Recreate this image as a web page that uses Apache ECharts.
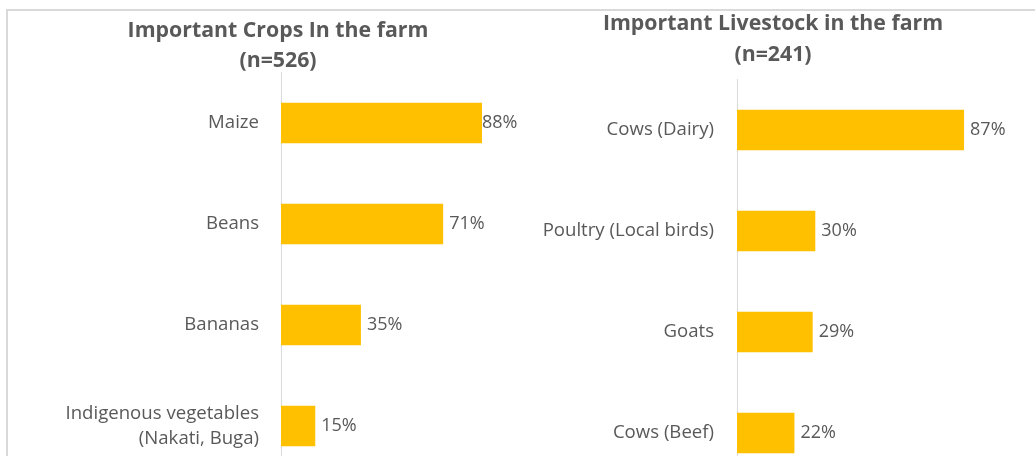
<!DOCTYPE html>
<html><head><meta charset="utf-8">
<script src="https://cdn.jsdelivr.net/npm/echarts@6/dist/echarts.min.js"></script>
<style>html,body{margin:0;padding:0;background:#fff;}#c{width:1035px;height:456px;}</style>
</head><body><div id="c"></div>
<script>
const cropCategories = ['Maize', 'Beans', 'Bananas', 'Indigenous vegetables\n(Nakati, Buga)'];
const cropValues = [88, 71, 35, 15];
const livestockCategories = ['Cows (Dairy)', 'Poultry (Local birds)', 'Goats', 'Cows (Beef)'];
const livestockValues = [87, 30, 29, 22];
const titles = ['Important Crops In the farm\n(n=526)', 'Important Livestock in the farm\n(n=241)'];

const FONT = 'Open Sans';
const TXT = '#595959';
const chart = echarts.init(document.getElementById('c'));
const labelStyle = {show: true, position: 'right', distance: 6, formatter: '{c}%', color: TXT, fontFamily: FONT, fontSize: 18};
chart.setOption({
  animation: false,
  title: [
    {text: titles[0], left: 273, top: 11, textAlign: 'center',
     textStyle: {color: TXT, fontFamily: FONT, fontWeight: 'bold', fontSize: 21.3, lineHeight: 30}},
    {text: titles[1], left: 768, top: 3, textAlign: 'center',
     textStyle: {color: TXT, fontFamily: FONT, fontWeight: 'bold', fontSize: 21.3, lineHeight: 31}}
  ],
  graphic: [
    {type: 'polyline', shape: {points: [[7, 460], [7, 10], [1040, 10]]}, style: {stroke: '#d9d9d9', lineWidth: 2, fill: null}}
  ],
  grid: [
    {left: 281, top: 72.5, width: 228.4, height: 404, outerBoundsMode: 'none', containLabel: false},
    {left: 737, top: 79.5, width: 261, height: 404, outerBoundsMode: 'none', containLabel: false}
  ],
  xAxis: [
    {gridIndex: 0, type: 'value', min: 0, max: 100, show: false},
    {gridIndex: 1, type: 'value', min: 0, max: 100, show: false}
  ],
  yAxis: [
    {gridIndex: 0, type: 'category', inverse: true, data: cropCategories,
     axisLine: {lineStyle: {color: '#d9d9d9'}}, axisTick: {show: false},
     axisLabel: {color: TXT, fontFamily: FONT, fontSize: 18.6, margin: 22, lineHeight: 25, align: 'right'}},
    {gridIndex: 1, type: 'category', inverse: true, data: livestockCategories,
     axisLine: {lineStyle: {color: '#d9d9d9'}}, axisTick: {show: false},
     axisLabel: {color: TXT, fontFamily: FONT, fontSize: 18.6, margin: 23, align: 'right'}}
  ],
  series: [
    {type: 'bar', xAxisIndex: 0, yAxisIndex: 0, barCategoryGap: '60%', itemStyle: {color: '#ffc000'},
     data: cropValues.map((v, i) => i === 0 ? {value: v, label: {distance: 0}} : v), label: labelStyle},
    {type: 'bar', xAxisIndex: 1, yAxisIndex: 1, barCategoryGap: '60%', itemStyle: {color: '#ffc000'},
     data: livestockValues, label: labelStyle}
  ]
});
</script></body></html>
